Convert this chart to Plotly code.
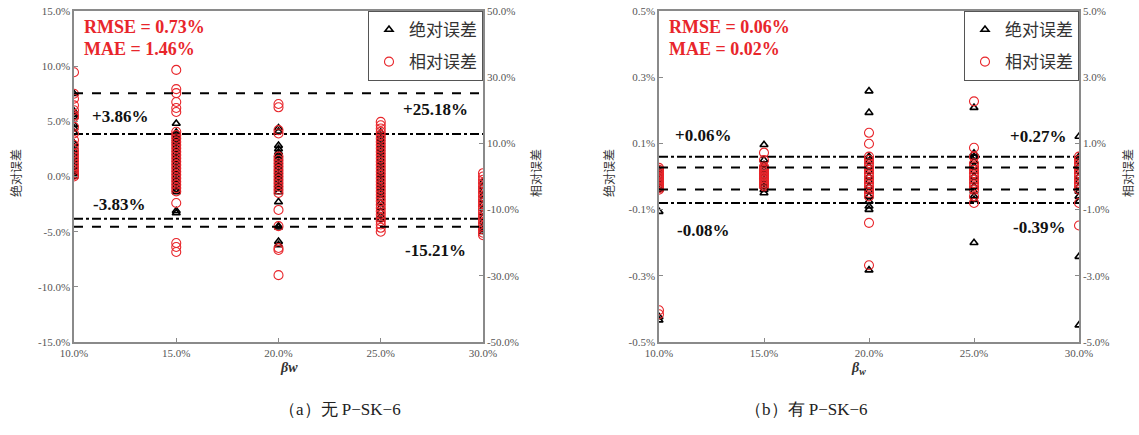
import plotly.graph_objects as go

# ---------------- data ----------------
beta_cats = [10, 15, 20, 25, 30]  # βw (%)

# Panel (a) 无P-SK-6 : absolute error (left axis, %) per βw
a_abs = {
    10: [7.5, 5.9, 5.6, 5.4, 4.7, 4.4, 4.0, 3.0, 2.7, 2.4, 2.1, 1.8, 1.5, 1.2, 0.9, 0.6, 0.4, 0.2, 0.0],
    15: [4.8, 4.0, 3.8, 3.6, 3.4, 3.2, 3.0, 2.7, 2.4, 2.1, 1.8, 1.5, 1.2, 0.9, 0.6, 0.3, 0.0, -0.3, -0.6, -0.9, -1.2, -1.4, -3.1, -3.3],
    20: [4.4, 4.1, 2.8, 2.5, 2.2, 1.9, 1.6, 1.3, 1.0, 0.7, 0.4, 0.1, -0.2, -0.5, -0.8, -1.1, -1.4, -2.3, -4.5, -4.6, -5.9, -6.2],
    25: [4.0, 3.7, 3.4, 3.1, 2.8, 2.5, 2.2, 1.9, 1.6, 1.3, 1.0, 0.7, 0.4, 0.1, -0.2, -0.5, -0.8, -1.1, -1.4, -1.7, -2.0, -2.4, -2.8, -3.2, -3.6, -3.9],
    30: [-0.5, -0.9, -1.3, -1.7, -2.1, -2.5, -2.9, -3.3, -3.7, -4.1, -4.5, -4.8, -5.0],
}
# Panel (a): relative error (right axis, %)
a_rel = {
    10: [31.5, 25.0, 23.5, 21.5, 20.0, 18.5, 18.0, 15.0, 13.0, 11.0, 9.5, 8.0, 7.0, 6.0, 5.0, 4.0, 3.0, 2.0, 1.0, 0.5, 0.0],
    15: [32.2, 26.4, 25.2, 22.5, 20.7, 19.5, 13.5, 12.5, 11.5, 10.5, 9.5, 8.5, 7.5, 6.5, 5.5, 4.5, 3.5, 2.5, 1.5, 0.5, -0.5, -1.5, -2.5, -3.5, -4.5, -8.0, -20.1, -21.3, -22.8],
    20: [21.9, 20.9, 14.0, 13.0, 6.0, 5.0, 4.0, 3.0, 2.0, 1.0, 0.0, -1.0, -2.0, -3.0, -4.0, -5.0, -10.1, -15.0, -21.6, -22.2, -29.8],
    25: [16.5, 15.5, 14.5, 13.5, 12.5, 11.5, 10.5, 9.5, 8.5, 7.5, 6.5, 5.5, 4.5, 3.5, 2.5, 1.5, 0.5, -0.5, -1.5, -2.5, -3.5, -4.5, -5.5, -6.5, -7.5, -8.5, -9.5, -10.5, -11.5, -12.5, -13.5, -14.5, -15.5, -16.7],
    30: [1.0, 0.0, -1.0, -2.0, -3.0, -4.0, -5.0, -6.0, -7.0, -8.0, -9.0, -10.0, -11.0, -12.0, -13.0, -14.0, -15.0, -16.0, -17.0, -17.7],
}
# Panel (b) 有P-SK-6 : absolute error (left axis, %)
b_abs = {
    10: [0.02, 0.01, 0.0, -0.01, -0.02, -0.03, -0.04, -0.106, -0.424, -0.434],
    15: [0.096, 0.05, 0.035, 0.02, 0.01, 0.0, -0.01, -0.02, -0.03, -0.04, -0.05],
    20: [0.258, 0.193, 0.06, 0.045, 0.03, 0.015, 0.0, -0.015, -0.03, -0.045, -0.06, -0.075, -0.09, -0.10, -0.283],
    25: [0.208, 0.07, 0.06, 0.045, 0.03, 0.015, 0.0, -0.015, -0.03, -0.045, -0.06, -0.07, -0.20],
    30: [0.121, 0.06, 0.045, 0.03, 0.015, 0.0, -0.015, -0.03, -0.045, -0.06, -0.075, -0.242, -0.449],
}
# Panel (b): relative error (right axis, %)
b_rel = {
    10: [0.26, 0.2, 0.15, 0.1, 0.05, 0.0, -0.05, -0.1, -0.15, -0.2, -0.25, -0.3, -0.35, -0.4, -4.04, -4.16],
    15: [0.72, 0.5, 0.3, 0.25, 0.2, 0.15, 0.1, 0.05, 0.0, -0.05, -0.1, -0.15, -0.2, -0.25, -0.3],
    20: [1.32, 0.99, 0.6, 0.5, 0.4, 0.3, 0.2, 0.1, 0.0, -0.1, -0.2, -0.3, -0.4, -0.5, -0.6, -1.40, -2.68],
    25: [2.27, 0.87, 0.6, 0.4, 0.3, 0.2, 0.1, 0.0, -0.1, -0.2, -0.3, -0.4, -0.6, -0.8],
    30: [0.6, 0.5, 0.4, 0.3, 0.2, 0.1, 0.0, -0.1, -0.2, -0.3, -0.4, -0.8, -1.48],
}

# bound lines: (absolute upper, absolute lower) and (relative upper, relative lower)
a_abs_bounds = [3.86, -3.83]
a_rel_bounds = [25.18, -15.21]
b_abs_bounds = [0.06, -0.08]
b_rel_bounds = [0.27, -0.39]

a_stats = ["RMSE = 0.73%", "MAE = 1.46%"]
b_stats = ["RMSE = 0.06%", "MAE = 0.02%"]

x_ticks = [10, 15, 20, 25, 30]
a_left_ticks = [-15, -10, -5, 0, 5, 10, 15]
a_right_ticks = [-50, -30, -10, 10, 30, 50]
b_left_ticks = [-0.5, -0.3, -0.1, 0.1, 0.3, 0.5]
b_right_ticks = [-5, -3, -1, 1, 3, 5]

legend_names = ["绝对误差", "相对误差"]
captions = ["（a）无 P−SK−6", "（b）有 P−SK−6"]

# ---------------- figure ----------------
W, H = 1139, 435
SERIF = "Liberation Serif"
CJK = "Noto Sans CJK SC"


def fx(px):
    return px / W


def fy(py):
    return 1 - py / H


def flat(d):
    xs, ys = [], []
    for k in beta_cats:
        for v in d[k]:
            xs.append(k)
            ys.append(v)
    return xs, ys


fig = go.Figure()


def add_panel(absd, reld, abs_b, rel_b, xa, ya_l, ya_r, legend):
    xs, ys = flat(absd)
    fig.add_trace(go.Scatter(
        x=xs, y=ys, mode="markers", name=legend_names[0], xaxis=xa, yaxis=ya_l,
        marker=dict(symbol="triangle-up-open", size=7, color="black", line=dict(width=1.6)),
        legend=legend, legendgroup=legend + "a"))
    xs, ys = flat(reld)
    fig.add_trace(go.Scatter(
        x=xs, y=ys, mode="markers", name=legend_names[1], xaxis=xa, yaxis=ya_r,
        marker=dict(symbol="circle-open", size=9, color="#e8262b", line=dict(width=1.1)),
        legend=legend, legendgroup=legend + "b"))
    for v in abs_b:
        fig.add_trace(go.Scatter(
            x=[x_ticks[0], x_ticks[-1]], y=[v, v], mode="lines", xaxis=xa, yaxis=ya_l,
            line=dict(color="black", width=2, dash="dashdot"), showlegend=False, hoverinfo="skip"))
    for v in rel_b:
        fig.add_trace(go.Scatter(
            x=[x_ticks[0], x_ticks[-1]], y=[v, v], mode="lines", xaxis=xa, yaxis=ya_r,
            line=dict(color="black", width=2, dash="dash"), showlegend=False, hoverinfo="skip"))


add_panel(a_abs, a_rel, a_abs_bounds, a_rel_bounds, "x", "y", "y2", "legend")
add_panel(b_abs, b_rel, b_abs_bounds, b_rel_bounds, "x2", "y3", "y4", "legend2")

ydom = [fy(342), fy(11)]
ax_common = dict(showgrid=False, zeroline=False, showline=True, linecolor="#8a8a8a", linewidth=1.5,
                 ticks="inside", ticklen=4, tickcolor="#8a8a8a", automargin=False,
                 tickfont=dict(family=SERIF, size=11, color="#555555"))


def pct(vals, nd=1):
    return [f"{v:.{nd}f}%" for v in vals]


legend_style = dict(yanchor="top", xanchor="right", y=fy(11),
                    bordercolor="#555555", borderwidth=1, bgcolor="white",
                    font=dict(family=CJK, size=17, color="#333333"),
                    itemwidth=30, traceorder="grouped", tracegroupgap=7)

fig.update_layout(
    width=W, height=H, margin=dict(l=0, r=0, t=0, b=0, autoexpand=False),
    plot_bgcolor="white", paper_bgcolor="white",
    xaxis=dict(domain=[fx(74), fx(483)], range=[10, 30], anchor="y", mirror=True,
               tickvals=x_ticks, ticktext=pct(x_ticks), **ax_common),
    yaxis=dict(domain=ydom, range=[-15, 15], anchor="x",
               tickvals=a_left_ticks, ticktext=pct(a_left_ticks), **ax_common),
    yaxis2=dict(range=[-50, 50], overlaying="y", side="right", anchor="x",
                tickvals=a_right_ticks, ticktext=pct(a_right_ticks), **ax_common),
    xaxis2=dict(domain=[fx(659), fx(1079)], range=[10, 30], anchor="y3", mirror=True,
                tickvals=x_ticks, ticktext=pct(x_ticks), **ax_common),
    yaxis3=dict(domain=ydom, range=[-0.5, 0.5], anchor="x2",
                tickvals=b_left_ticks, ticktext=pct(b_left_ticks), **ax_common),
    yaxis4=dict(range=[-5, 5], overlaying="y3", side="right", anchor="x2",
                tickvals=b_right_ticks, ticktext=pct(b_right_ticks), **ax_common),
    legend=dict(x=fx(483), **legend_style),
    legend2=dict(x=fx(1079), **legend_style),
    showlegend=True,
)

ann = []
# stats text
for stats, px in ((a_stats, 82), (b_stats, 667)):
    for i, t in enumerate(stats):
        ann.append(dict(text=f"<b>{t}</b>", xref="paper", yref="paper", x=fx(px),
                        y=fy(27 + 22 * i), xanchor="left", yanchor="middle", showarrow=False,
                        font=dict(family=SERIF, size=18, color="#e8262b")))

# bound labels (data coordinates)
bound_font = dict(family=SERIF, size=17, color="#111111")
ann += [
    dict(text=f"<b>{a_abs_bounds[0]:+.2f}%</b>", x=12.25, y=5.4, xref="x", yref="y", showarrow=False, font=bound_font),
    dict(text=f"<b>{a_abs_bounds[1]:+.2f}%</b>", x=12.2, y=-2.5, xref="x", yref="y", showarrow=False, font=bound_font),
    dict(text=f"<b>{a_rel_bounds[0]:+.2f}%</b>", x=27.7, y=6.1, xref="x", yref="y", showarrow=False, font=bound_font),
    dict(text=f"<b>{a_rel_bounds[1]:+.2f}%</b>", x=27.7, y=-6.75, xref="x", yref="y", showarrow=False, font=bound_font),
    dict(text=f"<b>{b_abs_bounds[0]:+.2f}%</b>", x=12.1, y=0.123, xref="x2", yref="y3", showarrow=False, font=bound_font),
    dict(text=f"<b>{b_abs_bounds[1]:+.2f}%</b>", x=12.1, y=-0.162, xref="x2", yref="y3", showarrow=False, font=bound_font),
    dict(text=f"<b>{b_rel_bounds[0]:+.2f}%</b>", x=28.05, y=0.12, xref="x2", yref="y3", showarrow=False, font=bound_font),
    dict(text=f"<b>{b_rel_bounds[1]:+.2f}%</b>", x=28.1, y=-0.155, xref="x2", yref="y3", showarrow=False, font=bound_font),
]

# axis titles
title_font = dict(family=CJK, size=12, color="#333333")
for txt, px in (("绝对误差", 15), ("相对误差", 535), ("绝对误差", 608), ("相对误差", 1127)):
    ann.append(dict(text=txt, textangle=-90, xref="paper", yref="paper", x=fx(px), y=fy(173),
                    xanchor="center", yanchor="middle", showarrow=False, font=title_font))

ann.append(dict(text="<i><b>βw</b></i>", xref="paper", yref="paper", x=fx(278), y=fy(377),
                showarrow=False, font=dict(family=SERIF, size=14, color="#333333")))
ann.append(dict(text="<i><b>β<sub>w</sub></b></i>", xref="paper", yref="paper", x=fx(868), y=fy(379),
                showarrow=False, font=dict(family=SERIF, size=14, color="#333333")))

# captions
for txt, px in ((captions[0], 277), (captions[1], 870)):
    ann.append(dict(text=txt, xref="paper", yref="paper", x=fx(px), y=fy(421),
                    showarrow=False, font=dict(family=SERIF, size=17, color="#222222")))

fig.update_layout(annotations=ann)

# remove the browser's default 8px body margin so the figure fills the window exactly
fig.write_html("out.html", config={"displayModeBar": False},
               post_script="document.body.style.margin='0px';")
